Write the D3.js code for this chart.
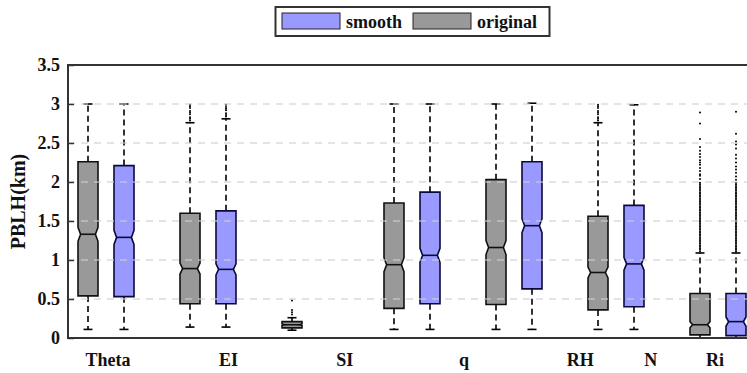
<!DOCTYPE html>
<html><head><meta charset="utf-8">
<script src="https://cdn.jsdelivr.net/npm/d3@7"></script>
<style>body{margin:0;background:#fff}svg{display:block}svg text{font-family:"Liberation Serif",serif;font-weight:bold}</style>
</head><body><svg id="c" width="747" height="373"></svg>
<script>
// ---- data ----
const categories = ["Theta","EI","SI","q","RH","N","Ri"];
const seriesNames = ["smooth","original"];
const yTicks = [0,0.5,1,1.5,2,2.5,3,3.5];
const yTickLabels = ["0","0.5","1","1.5","2","2.5","3","3.5"];

const origQ1    = [0.54,0.44,0.13,0.38,0.43,0.36,0.04];
const origMed   = [1.33,0.89,0.17,0.94,1.16,0.84,0.17];
const origQ3    = [2.26,1.60,0.21,1.73,2.03,1.56,0.57];
const origLo    = [0.11,0.14,0.10,0.11,0.11,0.11,0.00];
const origHi    = [3.00,2.76,0.26,3.00,3.00,2.76,1.09];
const origNotch = [0.09,0.07,0.01,0.09,0.09,0.07,0.04];

const smoothQ1    = [0.53,0.44,null,0.44,0.63,0.40,0.03];
const smoothMed   = [1.29,0.88,null,1.06,1.44,0.95,0.21];
const smoothQ3    = [2.21,1.63,null,1.87,2.26,1.70,0.57];
const smoothLo    = [0.11,0.14,null,0.11,0.11,0.11,0.00];
const smoothHi    = [3.00,2.81,null,3.00,3.01,2.99,1.09];
const smoothNotch = [0.09,0.07,null,0.09,0.09,0.08,0.06];

const origOutliers = [
  [],
  [2.79,2.81,2.83,2.87,2.89,2.91,2.95,2.97,2.99],
  [0.30,0.33,0.36,0.48],
  [],
  [],
  [2.79,2.81,2.83,2.87,2.89,2.91,2.95,2.97,2.99],
  [1.11,1.13,1.15,1.17,1.19,1.21,1.23,1.25,1.27,1.29,1.31,1.33,1.35,1.37,1.39,1.41,1.43,1.45,1.47,1.49,
   1.51,1.53,1.55,1.57,1.59,1.61,1.63,1.65,1.67,1.69,1.71,1.73,1.75,1.77,1.79,1.81,1.83,1.85,1.87,1.89,
   1.91,1.93,1.95,1.97,1.99,2.04,2.08,2.10,2.14,2.18,2.22,2.25,2.28,2.32,2.36,2.40,2.45,2.55,2.75,2.89]
];
const smoothOutliers = [
  [],
  [2.84,2.86,2.88,2.92,2.94,2.96,2.99],
  [],
  [],
  [],
  [],
  [1.11,1.13,1.15,1.17,1.19,1.21,1.23,1.25,1.27,1.29,1.31,1.33,1.35,1.37,1.39,1.41,1.43,1.45,1.47,1.49,
   1.51,1.53,1.55,1.57,1.59,1.61,1.63,1.65,1.67,1.69,1.71,1.73,1.75,1.77,1.79,1.81,1.83,1.85,1.87,1.89,
   1.91,1.93,1.95,1.97,1.99,2.03,2.07,2.12,2.16,2.20,2.25,2.30,2.35,2.43,2.48,2.52,2.62,2.90]
];

// ---- layout ----
const L = 68, T = 65, B = 338, R = 760;
const labelShift = [0.02,0.2,0.34,0.51,0.65,0.34,-0.03]; // label offset in group steps (as in reference)
const colors = {original:"#999999", smooth:"#9999ff"};
const strokes = {original:"#111111", smooth:"#0a0a3a"};

const svg = d3.select("#c");
const y = d3.scaleLinear().domain([0,3.5]).range([B,T]);
const x = d3.scalePoint().domain(categories).range([106,718]);
const step = x.step();
const xs = d3.scalePoint().domain(["original","smooth"]).range([-18,18]);
const boxW = 20, ins = 2.6, capW = 9;

const rows = [];
categories.forEach((c,i)=>{
  rows.push({cat:c, s:"original", q1:origQ1[i], med:origMed[i], q3:origQ3[i], lo:origLo[i], hi:origHi[i], n:origNotch[i], out:origOutliers[i]});
  rows.push({cat:c, s:"smooth", q1:smoothQ1[i], med:smoothMed[i], q3:smoothQ3[i], lo:smoothLo[i], hi:smoothHi[i], n:smoothNotch[i], out:smoothOutliers[i]});
});
const data = rows.filter(d=>d.q1!==null);

const g = svg.append("g");
const box = g.selectAll("g.box").data(data).enter().append("g")
  .attr("transform", d=>`translate(${x(d.cat)+xs(d.s)},0)`);

// whiskers
box.append("line").attr("x1",0).attr("x2",0).attr("y1",d=>y(d.q3)).attr("y2",d=>y(d.hi))
  .attr("stroke","#000").attr("stroke-width",1.6).attr("stroke-dasharray","6,4");
box.append("line").attr("x1",0).attr("x2",0).attr("y1",d=>y(d.q1)).attr("y2",d=>y(d.lo))
  .attr("stroke","#000").attr("stroke-width",1.6).attr("stroke-dasharray","6,4");
box.append("line").attr("x1",-capW/2).attr("x2",capW/2).attr("y1",d=>y(d.hi)).attr("y2",d=>y(d.hi))
  .attr("stroke","#000").attr("stroke-width",1.6);
box.append("line").attr("x1",-capW/2).attr("x2",capW/2).attr("y1",d=>y(d.lo)).attr("y2",d=>y(d.lo))
  .attr("stroke","#000").attr("stroke-width",1.6);

// outliers
box.each(function(d){
  d3.select(this).selectAll("circle").data(d.out).enter().append("circle")
    .attr("cx",0).attr("cy",v=>y(v)).attr("r",1).attr("fill","#000");
});

// notched box
box.append("path")
  .attr("d", d=>{
    const x0=-boxW/2, x1=boxW/2;
    const yq1=y(d.q1), yq3=y(d.q3), ym=y(d.med), ynl=y(d.med-d.n), ynh=y(d.med+d.n);
    return `M${x0},${yq1}L${x0},${ynl}L${x0+ins},${ym}L${x0},${ynh}L${x0},${yq3}L${x1},${yq3}L${x1},${ynh}L${x1-ins},${ym}L${x1},${ynl}L${x1},${yq1}Z`;
  })
  .attr("fill", d=>colors[d.s]).attr("stroke", d=>strokes[d.s]).attr("stroke-width",1.6)
  .attr("stroke-linejoin","miter");
box.append("line").attr("x1",-boxW/2+ins).attr("x2",boxW/2-ins)
  .attr("y1",d=>y(d.med)).attr("y2",d=>y(d.med))
  .attr("stroke", d=>strokes[d.s]).attr("stroke-width",1.6);

// grid (drawn over boxes, translucent)
svg.append("g").selectAll("line").data(yTicks.filter(t=>t>0 && t<3.5)).enter().append("line")
  .attr("x1",L).attr("x2",R).attr("y1",d=>y(d)).attr("y2",d=>y(d))
  .attr("stroke","#cfcfcf").attr("stroke-opacity",0.75).attr("stroke-width",1.6).attr("stroke-dasharray","7,6");

// axes
const yAxis = d3.axisLeft(y).tickValues(yTicks).tickFormat((d,i)=>yTickLabels[i]).tickSize(-6).tickPadding(8);
const ya = svg.append("g").attr("transform",`translate(${L},0)`).call(yAxis);
ya.select(".domain").remove();
ya.selectAll(".tick line").attr("stroke","#333").attr("stroke-width",1.5);
ya.selectAll(".tick text").attr("font-size",18).attr("fill","#111")
  .style("font-family","'Liberation Serif', serif").style("font-weight","bold");

svg.append("line").attr("x1",L).attr("x2",L).attr("y1",T).attr("y2",B).attr("stroke","#333").attr("stroke-width",2);
svg.append("line").attr("x1",L-1).attr("x2",R).attr("y1",B).attr("y2",B).attr("stroke","#333").attr("stroke-width",2);
svg.append("line").attr("x1",L-1).attr("x2",R).attr("y1",T).attr("y2",T).attr("stroke","#333").attr("stroke-width",2);

// category labels
svg.append("g").selectAll("text").data(categories).enter().append("text")
  .attr("x",(d,i)=>x(d)+labelShift[i]*step).attr("y",366)
  .attr("text-anchor","middle").attr("font-size",18)
  .attr("fill","#111").text(d=>d);

// y label
svg.append("text").attr("transform",`translate(25,${(T+B)/2}) rotate(-90)`)
  .attr("text-anchor","middle").attr("font-size",20)
  .attr("fill","#111").text("PBLH(km)");

// legend
const lg = svg.append("g");
lg.append("rect").attr("x",275.5).attr("y",7).attr("width",274).attr("height",29)
  .attr("fill","#fff").attr("stroke","#333").attr("stroke-width",2);
const items = [{s:"smooth",sx:282,tx:346},{s:"original",sx:413,tx:477}];
items.forEach(it=>{
  lg.append("rect").attr("x",it.sx).attr("y",13).attr("width",58).attr("height",16)
    .attr("fill",colors[it.s]).attr("stroke","#222").attr("stroke-width",1);
  lg.append("text").attr("x",it.tx).attr("y",28)
    .attr("font-size",18).attr("fill","#111").text(it.s);
});
</script></body></html>
